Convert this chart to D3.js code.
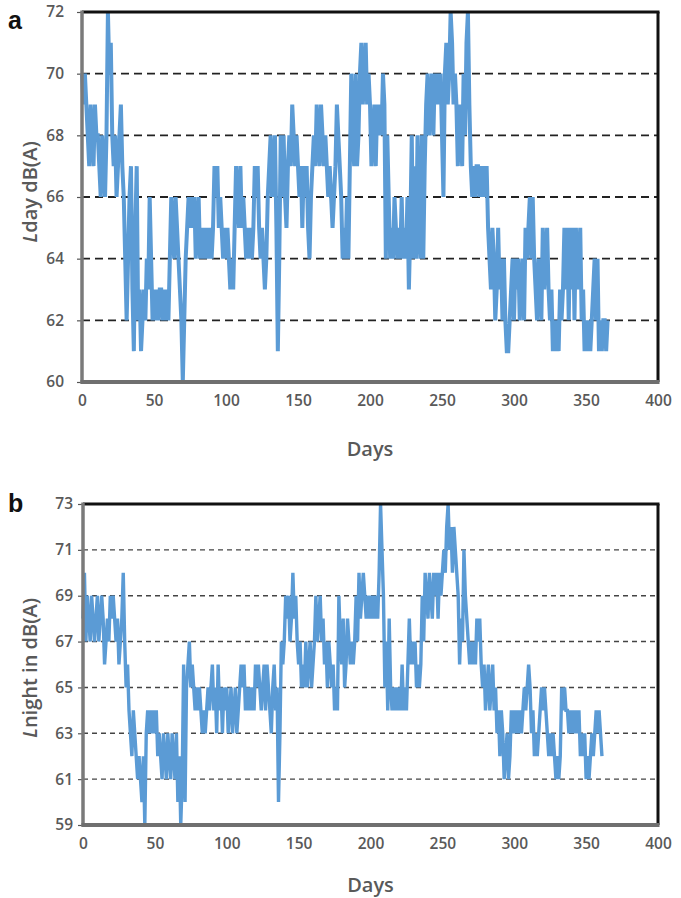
<!DOCTYPE html>
<html>
<head>
<meta charset="utf-8">
<script src="https://cdn.jsdelivr.net/npm/d3@7/dist/d3.min.js"></script>
<style>
  html, body { margin: 0; padding: 0; background: #ffffff; }
  svg { display: block; }
  .tick text { font-family: "Open Sans", "Noto Sans", sans-serif; font-weight: 600; fill: #595959; }
</style>
</head>
<body>
<svg id="chart" width="681" height="898"></svg>
<script>
// ---- Data ----
const lday = [
  70,69,70,69,68,67,69,68,67,69,
  68,68,67,66,68,67,66,68,72,70,
  71,68,67,68,66,67,68,69,67,66,
  64,62,64,66,67,63,61,65,67,62,
  63,61,62,63,62,64,63,66,64,62,
  63,62,63,62,63,63,62,63,62,63,
  62,64,66,65,64,66,65,64,63,62,
  60,62,64,65,66,65,66,65,66,64,
  65,66,64,65,64,65,64,65,64,65,
  64,65,67,66,67,65,66,65,64,65,
  64,65,64,63,64,63,65,67,66,65,
  67,65,66,65,64,65,64,65,64,65,
  67,66,67,65,64,65,64,63,64,66,
  67,68,66,67,68,65,61,64,68,66,
  68,66,65,67,68,67,69,68,67,68,
  67,66,67,65,67,66,67,65,64,66,
  67,68,67,69,68,67,69,68,67,68,
  67,66,67,66,65,66,67,69,68,67,
  66,64,65,64,66,64,67,70,68,67,
  70,67,68,70,71,69,70,71,69,70,
  69,67,68,69,67,69,68,69,68,70,
  69,64,68,66,64,65,64,66,65,64,
  65,64,66,64,65,64,66,63,65,68,
  64,67,64,68,65,64,68,64,67,69,
  70,68,69,70,68,70,69,70,69,70,
  68,66,70,71,69,70,72,71,69,70,
  69,67,69,68,67,70,68,71,72,69,
  67,66,67,66,67,67,66,67,66,67,
  66,67,65,64,63,65,64,62,63,65,
  63,64,62,64,62,61,61,62,63,64,
  62,64,63,64,62,63,64,62,65,64,
  65,66,64,66,64,63,62,64,63,62,
  65,63,64,65,63,62,63,61,62,61,
  62,61,63,62,63,65,63,65,62,65,
  63,65,62,65,63,64,65,62,63,61,
  62,61,62,61,62,63,64,62,64,61,
  62,61,62,62,61,62
];
const lnight = [
  68,70,67,69,68,67,69,68,67,68,
  69,67,68,69,68,66,67,68,67,69,
  68,69,68,67,68,66,67,68,70,67,
  65,66,64,63,62,64,63,62,61,62,
  61,60,62,59,63,64,63,64,63,64,
  63,64,62,63,62,61,63,62,61,63,
  62,61,63,62,61,63,60,62,59,61,
  66,60,65,66,67,65,66,65,64,65,
  64,65,64,63,64,63,64,65,64,65,
  66,64,65,63,66,64,65,63,65,64,
  65,63,64,65,63,64,65,63,64,65,
  66,65,66,64,65,64,65,64,65,64,
  66,65,66,65,64,65,66,64,66,65,
  64,63,65,66,64,65,60,63,67,66,
  67,69,68,69,67,68,70,68,69,67,
  66,67,65,66,65,67,65,66,67,65,
  66,67,69,67,68,69,67,68,66,67,
  65,67,66,65,66,64,65,64,69,67,
  66,68,65,66,68,67,66,67,66,67,
  69,67,70,68,69,70,69,68,69,68,
  69,68,69,68,69,68,70,73,71,69,
  65,67,64,68,65,64,65,64,65,64,
  65,64,66,64,65,64,66,68,66,67,
  66,67,65,66,65,66,69,67,70,69,
  68,70,69,68,70,69,70,68,70,69,
  70,71,70,72,73,71,72,70,72,71,
  70,69,66,68,67,71,69,68,67,66,
  67,66,67,66,68,67,68,66,65,66,
  64,65,66,64,65,66,64,65,63,64,
  62,64,63,61,62,63,61,62,64,63,
  64,63,64,63,64,63,64,65,64,65,
  66,65,63,64,62,63,62,63,64,65,
  64,65,64,63,62,63,62,63,62,61,
  62,61,62,65,64,65,64,64,63,64,
  63,64,63,64,63,64,62,63,62,63,
  61,62,61,62,63,62,63,64,63,64,
  63,62
];
const xTicks = [0, 50, 100, 150, 200, 250, 300, 350, 400];
const dayTicks = [60, 62, 64, 66, 68, 70, 72];
const nightTicks = [59, 61, 63, 65, 67, 69, 71, 73];

const svg = d3.select("#chart");
const lineColor = "#5b9bd5";

function panel(cfg) {
  const { left, right, top, bottom, values, yDomain, yTicks, grid, label, labelY,
          titleParts, titleY, tickLabelX, xLabelY, daysY, lineW, gridDash, gridW, gridColor } = cfg;
  const x = d3.scaleLinear().domain([0, 400]).range([left, right]);
  const y = d3.scaleLinear().domain(yDomain).range([bottom, top]);
  const g = svg.append("g");

  // gridlines
  g.selectAll("line.grid").data(grid).join("line")
    .attr("x1", left).attr("x2", right)
    .attr("y1", d => y(d)).attr("y2", d => y(d))
    .attr("stroke", gridColor).attr("stroke-width", gridW)
    .attr("stroke-dasharray", gridDash);

  // y axis ticks and labels
  const ya = g.append("g").attr("transform", `translate(${left},0)`)
    .call(d3.axisLeft(y).tickValues(yTicks).tickSize(5).tickPadding(left - tickLabelX - 5));
  ya.select(".domain").remove();
  ya.selectAll(".tick line").attr("stroke", "#555").attr("stroke-width", 1.2);
  ya.selectAll(".tick text").attr("font-size", 15.5);

  // x axis labels
  const xa = g.append("g").attr("transform", `translate(0,${bottom})`)
    .call(d3.axisBottom(x).tickValues(xTicks).tickSize(0).tickPadding(xLabelY - bottom));
  xa.select(".domain").remove();
  xa.selectAll(".tick text").attr("font-size", 15.5);

  // data line
  const line = d3.line().x((d, i) => x(i)).y(d => y(d));
  g.append("path").datum(values)
    .attr("d", line)
    .attr("fill", "none")
    .attr("stroke", lineColor)
    .attr("stroke-width", lineW)
    .attr("stroke-linejoin", "miter")
    .attr("stroke-miterlimit", 2);

  // frame: top & right black, left & bottom grey
  g.append("line").attr("x1", left).attr("x2", right + 1.5).attr("y1", top).attr("y2", top)
    .attr("stroke", "#111").attr("stroke-width", 3);
  g.append("line").attr("x1", right).attr("x2", right).attr("y1", top).attr("y2", bottom)
    .attr("stroke", "#111").attr("stroke-width", 3);
  g.append("line").attr("x1", left).attr("x2", left).attr("y1", top - 1.5).attr("y2", bottom + 1.5)
    .attr("stroke", "#7a7a7a").attr("stroke-width", 3.5);
  g.append("line").attr("x1", left - 1.5).attr("x2", right + 1.5).attr("y1", bottom).attr("y2", bottom)
    .attr("stroke", "#6f6f6f").attr("stroke-width", 4);

  // panel letter
  svg.append("text").attr("x", 8).attr("y", labelY)
    .attr("font-family", "Liberation Sans, Arial, sans-serif").attr("font-weight", "bold")
    .attr("font-size", 25).attr("fill", "#111").text(label);

  // y title
  const t = svg.append("text")
    .attr("transform", `translate(37,${titleY}) rotate(-90)`)
    .attr("text-anchor", "middle")
    .attr("font-family", "Open Sans, Noto Sans, sans-serif")
    .attr("font-weight", 600)
    .attr("font-size", 20).attr("fill", "#595959");
  t.append("tspan").attr("font-style", "italic").text(titleParts[0]);
  t.append("tspan").text(titleParts[1]);

  // x title
  svg.append("text").attr("x", (left + right) / 2).attr("y", daysY)
    .attr("text-anchor", "middle")
    .attr("font-family", "Open Sans, Noto Sans, sans-serif").attr("font-weight", 600)
    .attr("font-size", 20).attr("fill", "#595959").text("Days");
}

panel({
  left: 82, right: 658, top: 12, bottom: 382,
  values: lday, yDomain: [60, 72], yTicks: dayTicks, grid: [62, 64, 66, 68, 70],
  label: "a", labelY: 29, titleParts: ["L", "day dB(A)"], titleY: 192,
  tickLabelX: 64, xLabelY: 395, daysY: 456, lineW: 4,
  gridDash: "8,5", gridW: 1.8, gridColor: "#222"
});

panel({
  left: 83, right: 658, top: 504, bottom: 825,
  values: lnight, yDomain: [59, 73], yTicks: nightTicks, grid: [61, 63, 65, 67, 69, 71],
  label: "b", labelY: 512, titleParts: ["L", "night  in dB(A)"], titleY: 668,
  tickLabelX: 73, xLabelY: 838, daysY: 892, lineW: 3.4,
  gridDash: "5,4", gridW: 1.4, gridColor: "#444"
});
</script>
</body>
</html>
